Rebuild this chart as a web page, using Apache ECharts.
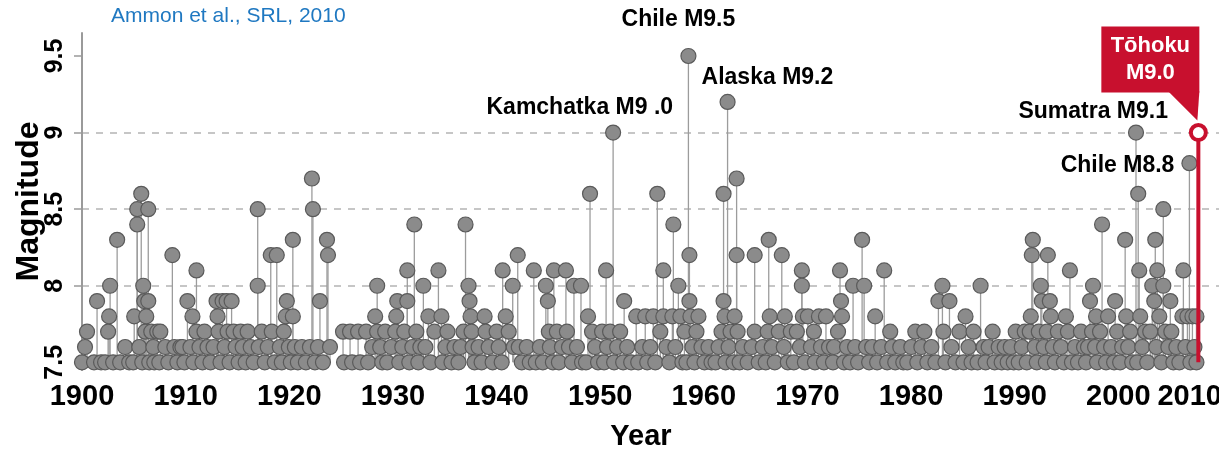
<!DOCTYPE html>
<html><head><meta charset="utf-8">
<script src="https://cdn.jsdelivr.net/npm/echarts@6/dist/echarts.min.js"></script>
<style>html,body{margin:0;padding:0;background:#fff}#c{width:1219px;height:449px}</style>
</head><body><div id="c"></div>
<script>
// ---- DATA: [year, magnitude] of M>=7.5 earthquakes ----
const quakes1900s = [[1900.0,7.5],[1900.3,7.6],[1900.5,7.7],[1901.2,7.5],[1901.5,7.9],[1901.9,7.5],[1902.3,7.5],[1902.6,7.7],[1902.7,7.8],[1902.8,8.0],[1903.1,7.5],[1903.5,8.3],[1903.8,7.5],[1904.3,7.6],[1904.7,7.5],[1905.1,7.5],[1905.2,7.8],[1905.5,8.4],[1905.5,8.5],[1905.7,7.6],[1905.9,8.6],[1906.0,7.5],[1906.1,8.0],[1906.2,7.9],[1906.3,7.7],[1906.6,8.5],[1906.4,7.8],[1906.6,7.9],[1906.7,7.5],[1906.9,7.7],[1907.1,7.6],[1907.2,7.5],[1907.5,7.7],[1907.8,7.7],[1907.7,7.5],[1908.3,7.6],[1908.6,7.5],[1909.0,8.2],[1909.2,7.6],[1909.5,7.5],[1909.8,7.6]];
const quakes1910s = [[1910.0,7.6],[1910.2,7.5],[1910.5,7.9],[1910.8,7.6],[1911.0,7.8],[1911.1,7.5],[1911.4,8.1],[1911.4,7.7],[1911.7,7.6],[1912.0,7.5],[1912.2,7.7],[1912.5,7.6],[1912.8,7.5],[1913.1,7.6],[1913.4,7.9],[1913.5,7.8],[1913.6,7.7],[1913.8,7.5],[1914.0,7.9],[1914.2,7.6],[1914.4,7.9],[1914.5,7.7],[1914.7,7.5],[1914.9,7.9],[1915.1,7.7],[1915.3,7.6],[1915.6,7.5],[1915.8,7.7],[1916.0,7.6],[1916.3,7.5],[1916.5,7.7],[1916.8,7.6],[1917.1,7.5],[1917.5,8.5],[1917.5,8.0],[1917.6,7.6],[1917.9,7.7],[1918.2,7.5],[1918.5,7.6],[1918.8,8.2],[1918.9,7.7],[1919.2,7.5],[1919.4,8.2],[1919.7,7.6],[1919.9,7.5]];
const quakes1920s = [[1920.1,7.7],[1920.3,7.8],[1920.4,7.9],[1920.6,7.6],[1920.8,7.5],[1921.0,8.3],[1921.0,7.8],[1921.2,7.6],[1921.5,7.5],[1921.9,7.6],[1922.3,7.5],[1922.7,7.6],[1922.9,8.7],[1923.0,8.5],[1923.2,7.5],[1923.5,7.6],[1923.7,7.9],[1924.0,7.5],[1924.4,8.3],[1924.5,8.2],[1924.7,7.6],[1926.0,7.7],[1926.1,7.5],[1926.7,7.7],[1926.9,7.5],[1927.5,7.7],[1927.7,7.5],[1928.3,7.7],[1928.5,7.5],[1928.9,7.6],[1929.2,7.8],[1929.4,8.0],[1929.4,7.7],[1929.7,7.6],[1929.9,7.5]];
const quakes1930s = [[1930.2,7.7],[1930.4,7.5],[1930.8,7.6],[1931.2,7.7],[1931.3,7.8],[1931.4,7.9],[1931.6,7.5],[1931.9,7.6],[1932.1,7.7],[1932.4,8.1],[1932.4,7.9],[1932.6,7.5],[1932.9,7.6],[1933.1,8.4],[1933.3,7.7],[1933.5,7.5],[1933.7,7.6],[1934.0,8.0],[1934.2,7.6],[1934.5,7.8],[1934.7,7.5],[1935.1,7.7],[1935.5,8.1],[1935.8,7.8],[1935.9,7.5],[1936.2,7.6],[1936.4,7.7],[1936.8,7.5],[1937.1,7.6],[1937.5,7.5],[1937.7,7.6],[1938.0,7.7],[1938.2,8.4],[1938.5,8.0],[1938.6,7.9],[1938.7,7.8],[1938.8,7.7],[1938.9,7.6],[1939.1,7.5],[1939.5,7.6],[1939.8,7.5]];
const quakes1940s = [[1940.1,7.8],[1940.2,7.7],[1940.5,7.6],[1940.9,7.5],[1941.3,7.7],[1941.5,7.6],[1941.8,7.5],[1941.9,8.1],[1942.2,7.8],[1942.5,7.7],[1942.9,8.0],[1943.0,7.6],[1943.4,8.2],[1943.5,7.6],[1943.8,7.5],[1944.3,7.6],[1944.6,7.5],[1945.0,8.1],[1945.2,7.5],[1945.6,7.6],[1945.9,7.5],[1946.2,8.0],[1946.4,7.9],[1946.5,7.7],[1946.6,7.6],[1946.9,7.5],[1947.0,8.1],[1947.3,7.7],[1947.5,7.5],[1947.8,7.6],[1948.2,8.1],[1948.3,7.7],[1948.5,7.6],[1948.8,7.5],[1949.0,8.0],[1949.3,7.6],[1949.7,8.0],[1949.8,7.5]];
const quakes1950s = [[1950.2,7.5],[1950.4,7.8],[1950.6,8.6],[1950.8,7.7],[1951.1,7.6],[1951.4,7.5],[1951.8,7.7],[1952.0,7.5],[1952.2,8.1],[1952.3,7.6],[1952.6,7.7],[1952.9,9.0],[1953.0,7.5],[1953.3,7.6],[1953.6,7.7],[1953.9,7.5],[1954.0,7.9],[1954.3,7.6],[1954.7,7.5],[1955.2,7.8],[1955.4,7.5],[1955.8,7.6],[1956.1,7.8],[1956.3,7.5],[1956.6,7.6],[1956.9,7.8],[1957.1,7.5],[1957.3,8.6],[1957.6,7.7],[1957.9,8.1],[1957.9,7.8],[1958.2,7.6],[1958.5,7.5],[1958.8,7.8],[1958.9,8.4],[1959.1,7.6],[1959.4,8.0],[1959.6,7.8],[1959.8,7.5]];
const quakes1960s = [[1960.0,7.7],[1960.2,7.5],[1960.4,9.5],[1960.5,8.2],[1960.5,7.9],[1960.6,7.8],[1960.8,7.6],[1961.0,7.5],[1961.2,7.7],[1961.4,7.8],[1961.7,7.6],[1962.0,7.5],[1962.4,7.6],[1962.7,7.5],[1963.1,7.5],[1963.4,7.6],[1963.7,7.7],[1963.9,8.6],[1963.9,7.9],[1964.0,7.8],[1964.1,7.5],[1964.3,9.2],[1964.4,7.6],[1964.6,7.7],[1964.9,7.5],[1965.0,7.8],[1965.2,8.7],[1965.2,8.2],[1965.3,7.7],[1965.5,7.5],[1965.8,7.6],[1966.3,7.5],[1966.7,7.6],[1967.0,8.2],[1967.0,7.7],[1967.4,7.5],[1967.8,7.6],[1968.1,7.5],[1968.3,7.7],[1968.4,8.3],[1968.5,7.8],[1968.7,7.6],[1969.0,7.5],[1969.4,7.7],[1969.7,8.2],[1969.9,7.6]];
const quakes1970s = [[1970.0,7.8],[1970.3,7.5],[1970.6,7.7],[1970.9,7.5],[1971.2,7.7],[1971.5,7.6],[1971.7,8.1],[1971.7,8.0],[1971.8,7.8],[1972.0,7.5],[1972.3,7.8],[1972.6,7.6],[1972.9,7.7],[1973.0,7.5],[1973.4,7.8],[1973.6,7.6],[1973.9,7.5],[1974.1,7.8],[1974.4,7.6],[1974.8,7.5],[1974.9,7.6],[1975.3,7.7],[1975.5,8.1],[1975.6,7.9],[1975.7,7.8],[1975.9,7.5],[1976.2,7.6],[1976.5,7.5],[1976.8,8.0],[1977.0,7.6],[1977.3,7.5],[1977.7,8.3],[1977.9,8.0],[1978.1,7.6],[1978.4,7.5],[1978.7,7.6],[1979.0,7.8],[1979.2,7.5],[1979.6,7.6],[1979.9,8.1]];
const quakes1980s = [[1980.2,7.5],[1980.5,7.7],[1980.7,7.6],[1981.0,7.5],[1981.5,7.6],[1981.8,7.5],[1982.2,7.5],[1982.6,7.6],[1983.0,7.7],[1983.2,7.5],[1983.6,7.6],[1983.9,7.7],[1984.2,7.5],[1984.6,7.6],[1985.0,7.5],[1985.3,7.9],[1985.7,8.0],[1985.8,7.7],[1986.0,7.5],[1986.4,7.9],[1986.6,7.6],[1987.0,7.5],[1987.4,7.7],[1987.8,7.5],[1988.0,7.8],[1988.3,7.6],[1988.6,7.5],[1988.8,7.7],[1989.2,7.5],[1989.5,8.0],[1989.8,7.6]];
const quakes1990s = [[1990.0,7.5],[1990.3,7.6],[1990.7,7.7],[1990.9,7.5],[1991.3,7.6],[1991.6,7.5],[1991.9,7.6],[1992.2,7.5],[1992.5,7.6],[1992.8,7.5],[1993.0,7.7],[1993.3,7.5],[1993.6,7.6],[1993.9,7.7],[1994.1,7.5],[1994.4,7.7],[1994.5,7.8],[1994.6,8.2],[1994.7,8.3],[1994.9,7.6],[1995.1,7.5],[1995.3,7.7],[1995.5,8.0],[1995.6,7.9],[1995.8,7.6],[1996.0,7.5],[1996.1,7.7],[1996.2,8.2],[1996.4,7.9],[1996.5,7.8],[1996.7,7.6],[1996.9,7.5],[1997.2,7.7],[1997.5,7.6],[1997.8,7.5],[1998.0,7.8],[1998.2,7.7],[1998.4,8.1],[1998.6,7.5],[1998.9,7.6],[1999.2,7.5],[1999.5,7.7],[1999.8,7.6]];
const quakes2000s = [[2000.0,7.5],[2000.2,7.6],[2000.4,7.9],[2000.6,7.7],[2000.7,8.0],[2000.9,7.6],[2001.0,7.8],[2001.1,7.5],[2001.4,7.7],[2001.6,8.4],[2001.8,7.6],[2002.0,7.5],[2002.2,7.8],[2002.5,7.6],[2002.8,7.5],[2002.9,7.9],[2003.1,7.7],[2003.4,7.5],[2003.6,7.6],[2003.9,8.3],[2004.0,7.8],[2004.2,7.6],[2004.4,7.7],[2004.6,7.5],[2004.98,9.0],[2005.1,7.5],[2005.2,8.6],[2005.3,8.1],[2005.4,7.8],[2005.6,7.6],[2005.9,7.7],[2006.1,7.5],[2006.4,7.7],[2006.6,8.0],[2006.8,7.9],[2006.9,8.3],[2007.0,7.6],[2007.1,8.1],[2007.3,7.8],[2007.5,7.5],[2007.7,8.5],[2007.7,8.0],[2007.9,7.7],[2008.2,7.6],[2008.4,7.9],[2008.5,7.7],[2008.7,7.5],[2009.0,7.6],[2009.3,7.5],[2009.6,7.8],[2009.7,8.1],[2009.9,7.6],[2010.1,7.8],[2010.3,8.8],[2010.4,7.5],[2010.6,7.8],[2010.8,7.6],[2011.0,7.8],[2011.0,7.5]];
const tohoku = [[2011.19, 9.0]];
const tohokuLabel = ['Tōhoku', 'M9.0'];
const annotations = [[1960.4,9.5,'Chile M9.5'],[1964.3,9.2,'Alaska M9.2'],[1952.9,9.0,'Kamchatka M9 .0'],[2004.98,9.0,'Sumatra M9.1'],[2010.3,8.8,'Chile M8.8']];
const yearTicks = [1900,1910,1920,1930,1940,1950,1960,1970,1980,1990,2000,2010];
const magTicks = [7.5,8,8.5,9,9.5];
const sourceNote = 'Ammon et al., SRL, 2010';
const axisTitles = {x: 'Year', y: 'Magnitude'};

// ---- layout / style ----
const FONT = '"Liberation Sans", Arial, sans-serif';
const RED = '#c8102e';
const MAG_BASE = 7.5;
const labelPlacement = {
  'Chile M9.5': {dx: -10, dy: -36, align: 'center'},
  'Alaska M9.2': {dx: -26, dy: -24, align: 'left'},
  'Kamchatka M9 .0': {dx: 60, dy: -25, align: 'right'},
  'Sumatra M9.1': {dx: 32, dy: -21, align: 'right'},
  'Chile M8.8': {dx: -15, dy: 2, align: 'right'}
};

const allQuakes = [].concat(quakes1900s, quakes1910s, quakes1920s, quakes1930s, quakes1940s,
  quakes1950s, quakes1960s, quakes1970s, quakes1980s, quakes1990s, quakes2000s);

const chart = echarts.init(document.getElementById('c'), null, {renderer: 'canvas'});
chart.setOption({
  animation: false,
  backgroundColor: '#fff',
  grid: {left: 82, top: 33, width: 1140, height: 337, containLabel: false, outerBoundsMode: 'none'},
  xAxis: [
    {type: 'value', min: 1900, max: 1900 + 1140 / 10.04, show: false},
    {type: 'value', min: yearTicks[0], max: yearTicks[yearTicks.length - 1],
     interval: yearTicks[1] - yearTicks[0], position: 'bottom',
     axisLine: {show: false}, axisTick: {show: false}, splitLine: {show: false},
     axisLabel: {fontFamily: FONT, fontWeight: 'bold', fontSize: 29, color: '#000', margin: 12,
       alignMaxLabel: 'right', formatter: v => String(v)},
     name: axisTitles.x, nameLocation: 'middle', nameGap: 52,
     nameTextStyle: {fontFamily: FONT, fontWeight: 'bold', fontSize: 29, color: '#000', padding: [0, 22, 0, 0]}}
  ],
  yAxis: {
    type: 'value', min: 7.45, max: 9.65,
    axisLine: {show: true, lineStyle: {color: '#9a9a9a', width: 2}},
    axisTick: {show: true, length: 8, customValues: magTicks, lineStyle: {color: '#9a9a9a', width: 1.5}},
    axisLabel: {customValues: magTicks, rotate: 90, margin: 14, fontFamily: FONT, fontWeight: 'bold', fontSize: 25, color: '#000',
      formatter: v => String(v)},
    splitLine: {show: true, showMinLine: false, showMaxLine: false, lineStyle: {color: '#b4b4b4', width: 1.5, type: [7, 7]}},
    name: axisTitles.y, nameLocation: 'middle', nameRotate: 90, nameGap: 37, nameMoveOverlap: false,
    nameTextStyle: {fontFamily: FONT, fontWeight: 'bold', fontSize: 32, color: '#000'}
  },
  graphic: [{type: 'text', left: 111, top: 6, style: {text: sourceNote, font: '21px ' + FONT, fill: '#1f78c1'}}],
  series: [
    {type: 'custom', name: 'stems', xAxisIndex: 0, data: allQuakes, silent: true, z: 2,
     renderItem: (params, api) => {
       const top = api.coord([api.value(0), api.value(1)]);
       const base = api.coord([api.value(0), MAG_BASE]);
       return {type: 'line', shape: {x1: top[0], y1: top[1], x2: base[0], y2: base[1]},
               style: {stroke: '#9c9c9c', lineWidth: 1.3}};
     }},
    {type: 'scatter', name: 'quakes', xAxisIndex: 0, data: allQuakes, symbol: 'circle', symbolSize: 15, z: 3,
     itemStyle: {color: '#8b8b8b', borderColor: '#5a5a5a', borderWidth: 1.2, opacity: 1}},
    {type: 'custom', name: 'labels', xAxisIndex: 0, data: annotations, silent: true, z: 5,
     renderItem: (params, api) => {
       const a = annotations[params.dataIndex];
       const p = api.coord([a[0], a[1]]);
       const pl = labelPlacement[a[2]];
       return {type: 'text', style: {text: a[2], x: p[0] + pl.dx, y: p[1] + pl.dy, align: pl.align,
               verticalAlign: 'middle', font: 'bold 23px ' + FONT, fill: '#000'}};
     }},
    {type: 'custom', name: 'tohoku', xAxisIndex: 0, data: tohoku, silent: true, z: 6,
     renderItem: (params, api) => {
       const p = api.coord([api.value(0), api.value(1)]);
       const b = api.coord([api.value(0), MAG_BASE]);
       const bw = 98, bh = 66, bx = p[0] - 97, by = p[1] - 106;
       return {type: 'group', children: [
         {type: 'line', shape: {x1: p[0], y1: p[1], x2: b[0], y2: b[1]}, style: {stroke: RED, lineWidth: 4}},
         {type: 'rect', shape: {x: bx, y: by, width: bw, height: bh}, style: {fill: RED}},
         {type: 'polygon', shape: {points: [[p[0] - 30, by + bh - 1], [p[0] + 1, by + bh - 1], [p[0] - 1, p[1] - 12]]}, style: {fill: RED}},
         {type: 'text', style: {text: tohokuLabel[0], x: bx + bw / 2, y: by + 19, align: 'center', verticalAlign: 'middle', font: 'bold 22px ' + FONT, fill: '#fff'}},
         {type: 'text', style: {text: tohokuLabel[1], x: bx + bw / 2, y: by + 46, align: 'center', verticalAlign: 'middle', font: 'bold 22px ' + FONT, fill: '#fff'}},
         {type: 'circle', shape: {cx: p[0], cy: p[1], r: 7.5}, style: {fill: '#fff', stroke: RED, lineWidth: 4}}
       ]};
     }}
  ]
});
</script>
</body></html>
